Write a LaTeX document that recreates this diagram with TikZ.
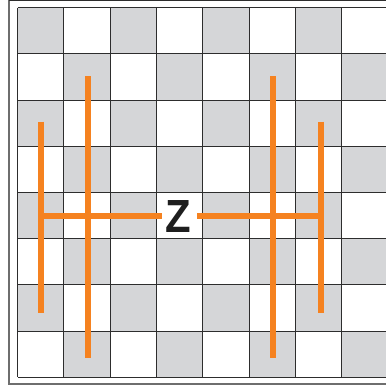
\documentclass[tikz,border=0pt]{standalone}
\usepackage{fontspec}
\setmainfont{Liberation Sans}
\newfontfamily\zfont{Liberation Sans}
\definecolor{cellgray}{RGB}{213,214,216}
\definecolor{gridline}{RGB}{45,45,45}
\definecolor{framegray}{RGB}{110,110,110}
\definecolor{zorange}{RGB}{245,130,32}
\definecolor{ztext}{RGB}{30,30,30}
\begin{document}
\begin{tikzpicture}[x=1pt,y=-1pt,
  gridstroke/.style={draw=gridline,line width=0.9pt},
  orangebar/.style={draw=zorange,line width=6pt}]
\useasboundingbox (0,0) rectangle (386,386);
\begin{scope}
\clip (0,0) rectangle (386,386);
% outer frame
\draw[framegray,line width=1.2pt] (9,0.6) rectangle (400,384);
\draw[gridline,line width=1.2pt] (9,0.6) -- (400,0.6);
% checker cells
\foreach \r in {0,...,7}{
  \foreach \c in {0,...,7}{
    \pgfmathtruncatemacro{\cellpar}{mod(\r+\c,2)}
    \ifnum\cellpar=0
      \fill[cellgray] ({17.5+46.3*\c},{7.5+46.23*\r}) rectangle ++(46.3,46.23);
    \fi
  }
}
% grid lines
\foreach \c in {0,...,8}{
  \draw[gridstroke] ({17.5+46.3*\c},7.5) -- ({17.5+46.3*\c},377.3);
}
\foreach \r in {0,...,8}{
  \draw[gridstroke] (17.5,{7.5+46.23*\r}) -- (400,{7.5+46.23*\r});
}
\end{scope}
% Z label
\node[inner sep=0pt,text=ztext,font=\zfont\bfseries\fontsize{46.5}{46.5}\selectfont] (z) at (178,217)
  {\scalebox{0.9}[1]{Z}};
% orange bars
\coordinate (a1) at (88.3,76);   \coordinate (a2) at (88.3,357.5);
\coordinate (b1) at (41,121.5);  \coordinate (b2) at (41,312.5);
\coordinate (c1) at (273.3,76);  \coordinate (c2) at (273.3,357.5);
\coordinate (d1) at (320.7,121.5); \coordinate (d2) at (320.7,312.5);
\coordinate (hl) at (38,215.5);  \coordinate (hlz) at (162,215.5);
\coordinate (hrz) at (197.3,215.5); \coordinate (hr) at (323.7,215.5);
\draw[orangebar] (a1) -- (a2);
\draw[orangebar] (b1) -- (b2);
\draw[orangebar] (c1) -- (c2);
\draw[orangebar] (d1) -- (d2);
\draw[orangebar] (hl) -- (hlz);
\draw[orangebar] (hrz) -- (hr);
\end{tikzpicture}
\end{document}
